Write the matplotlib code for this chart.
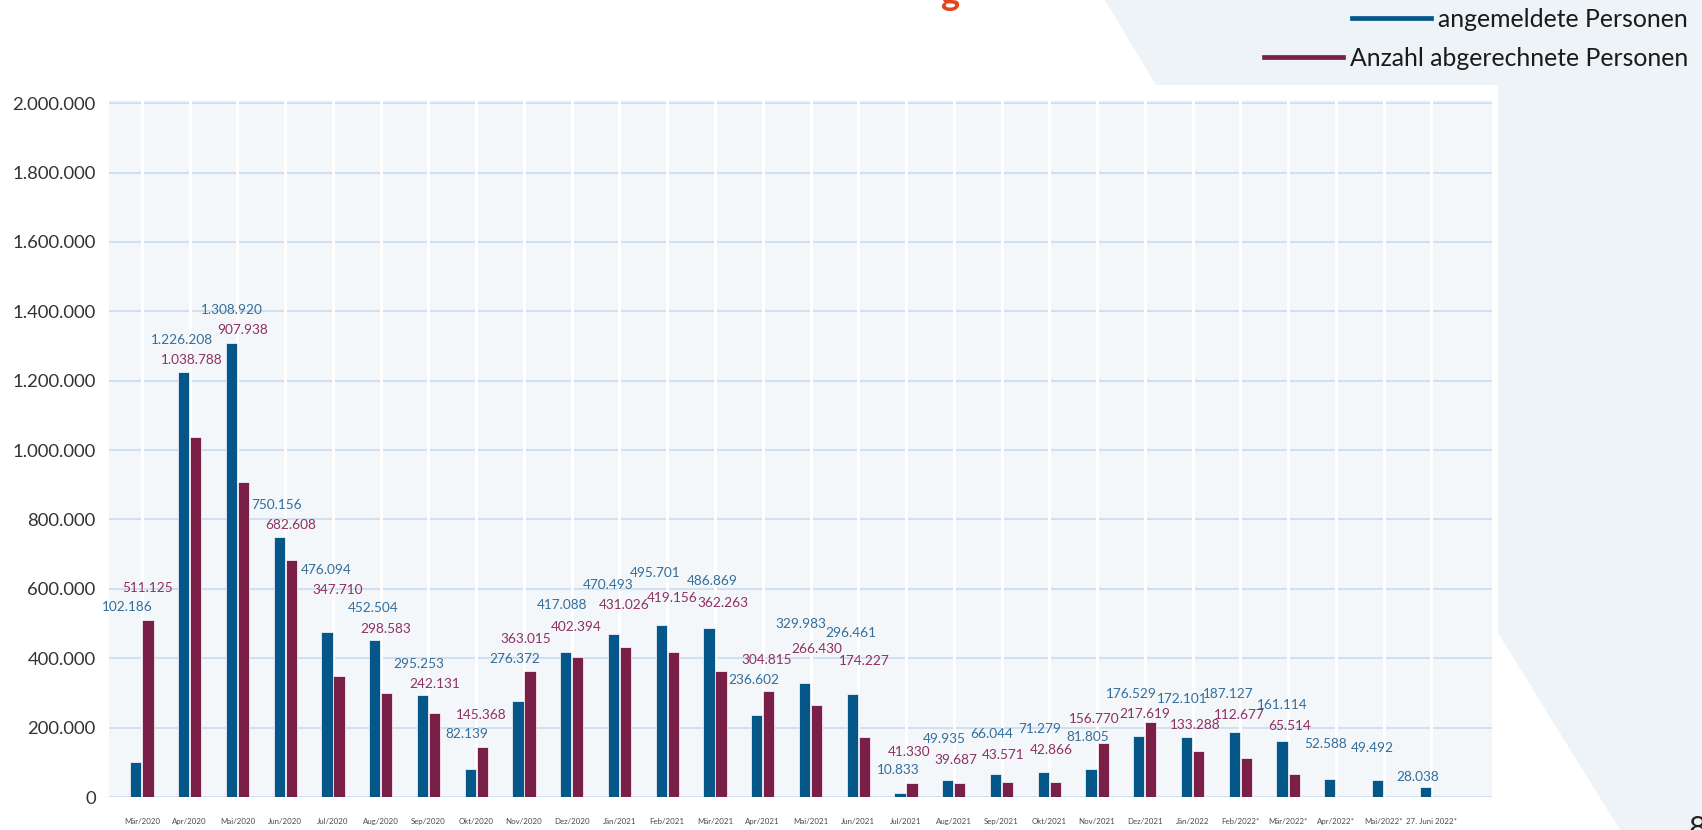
import numpy as np
import matplotlib
matplotlib.use("Agg")
import matplotlib.pyplot as plt
from matplotlib.patches import Polygon
from matplotlib.lines import Line2D

plt.rcParams['font.family'] = ['Lato', 'DejaVu Sans']

# ---------------- data ----------------
categories = ["Mär/2020", "Apr/2020", "Mai/2020", "Jun/2020", "Jul/2020", "Aug/2020",
              "Sep/2020", "Okt/2020", "Nov/2020", "Dez/2020", "Jän/2021", "Feb/2021",
              "Mär/2021", "Apr/2021", "Mai/2021", "Jun/2021", "Jul/2021", "Aug/2021",
              "Sep/2021", "Okt/2021", "Nov/2021", "Dez/2021", "Jän/2022", "Feb/2022*",
              "Mär/2022*", "Apr/2022*", "Mai/2022*", "27. Juni 2022*"]
angemeldet = [102186, 1226208, 1308920, 750156, 476094, 452504, 295253, 82139,
              276372, 417088, 470493, 495701, 486869, 236602, 329983, 296461,
              10833, 49935, 66044, 71279, 81805, 176529, 172101, 187127,
              161114, 52588, 49492, 28038]
abgerechnet = [511125, 1038788, 907938, 682608, 347710, 298583, 242131, 145368,
               363015, 402394, 431026, 419156, 362263, 304815, 266430, 174227,
               41330, 39687, 43571, 42866, 156770, 217619, 133288, 112677,
               65514]
series_names = ["angemeldete Personen", "Anzahl abgerechnete Personen"]
yticks = [0, 200000, 400000, 600000, 800000, 1000000, 1200000, 1400000,
          1600000, 1800000, 2000000]

# label placement (pixel offsets from bar top / category centre) - layout only
blue_dx = [-14.2, -7.8, -5.5, -8.6, -7, -7.8, -9.4, -9.3, -9.3, -10.1, -11.3, -12.1,
           -3.1, -8.9, -9.8, -7.9, -8.2, -9.3, -10, -9.5, -9.2, -13.7, -10.8, -12.2,
           -5.5, -10.5, -11, -13.9]
blue_dy = [157.0, 33.6, 34.9, 33.8, 63.8, 34, 32.9, 36.5, 43.8, 49, 50.5, 54.3,
           49.1, 37.2, 60.8, 63.5, 24.9, 43, 42.4, 45.6, 33.6, 44.1, 40, 40.4,
           37.8, 37.1, 33.8, 12.3]
red_dx = [5.5, 2.2, 5.5, 5.7, 4.5, 4.9, 6.4, 5.4, 1.7, 4, 4.7, 5.3, 8.2, 3.8, 6.1,
          5.6, 3.6, 2.5, 2, 2.2, -3, -0.5, 2.2, -0.8, 1.2]
red_dy = [34.0, 78.6, 153.7, 37.2, 88.4, 66.7, 31.3, 33.3, 33.8, 32.4, 44.2, 55.6,
          70.3, 33, 57.9, 77.3, 32.7, 24.9, 28.6, 33.8, 25.9, 9.8, 27.5, 45.2, 50.3]

# ---------------- style ----------------
BLUE = "#05578a"
RED = "#7a1f48"
BLUE_TXT = "#336d9b"
RED_TXT = "#8e3060"
BG = "#f4f7f9"
PANEL = "#edf3f6"
GRID = "#c9dcef"
W, H = 1702, 830
PX = 0.72  # points per pixel at dpi 100

fig = plt.figure(figsize=(W / 100, H / 100), dpi=100)
fig.patch.set_facecolor("white")

# decorative panel on the right
pts = [(1105, 0), (1702, 0), (1702, 830), (1620, 830), (1498, 633), (1498, 85), (1156, 85)]
fig.patches.append(Polygon([(x / W, 1 - y / H) for x, y in pts], closed=True,
                           transform=fig.transFigure, facecolor=PANEL,
                           edgecolor="none", zorder=0))

ax = fig.add_axes([108.5 / W, 1 - 797 / H, (1492 - 108.5) / W, (797 - 99.7) / H])
ax.set_facecolor(BG)

x = np.arange(len(categories))
bw = 0.235
off = 0.127
ax.bar(x - off, angemeldet, width=bw, color=BLUE, edgecolor="white", linewidth=0.5, zorder=2)
xr = np.arange(len(abgerechnet))
ax.bar(xr + off, abgerechnet, width=bw, color=RED, edgecolor="white", linewidth=0.5, zorder=2)

def fmt(v):
    return f"{v:,}".replace(",", ".")

for i, v in enumerate(angemeldet):
    ax.annotate(fmt(v), xy=(i, v), xytext=(blue_dx[i] * PX, blue_dy[i] * PX - 1.5),
                textcoords="offset points", ha="center", va="center",
                fontsize=9.8, color=BLUE_TXT, zorder=3)
for i, v in enumerate(abgerechnet):
    ax.annotate(fmt(v), xy=(i, v), xytext=(red_dx[i] * PX, red_dy[i] * PX - 1.5),
                textcoords="offset points", ha="center", va="center",
                fontsize=9.8, color=RED_TXT, zorder=3)

ax.set_xlim(-0.70, 28.27)
ax.set_ylim(0, 2010000)
ax.set_yticks(yticks)
ax.set_yticklabels([fmt(v) for v in yticks], fontsize=13.3, color="#333333")
ax.set_xticks(x)
ax.set_xticklabels(categories, fontsize=5.7, color="#4a4a4a")
ax.tick_params(axis="y", length=0, pad=9.2)
ax.tick_params(axis="x", length=0, pad=15.4)
for s in ax.spines.values():
    s.set_visible(False)

ax.set_axisbelow(True)
ax.yaxis.grid(True, color=GRID, linewidth=1.2)
ax.xaxis.grid(True, color="white", linewidth=2.2)
ax.xaxis.set_zorder(0.7)
ax.yaxis.set_zorder(0.5)

# legend: one right-aligned row per series
leg_colors = [BLUE, RED]
leg_rows_y = [19.5, 58.6]  # row centres in pixels from top
for name, col, yc in zip(series_names, leg_colors, leg_rows_y):
    lg = fig.legend([Line2D([0], [0], color=col, lw=3.4)], [name], loc="center right",
                    bbox_to_anchor=(1688 / W, 1 - yc / H), frameon=False,
                    fontsize=17.8, handlelength=3.2, handletextpad=0.28,
                    borderaxespad=0, borderpad=0)
    for t in lg.get_texts():
        t.set_color("#1a1a1a")

# cut-off title fragment and page number
fig.text(950 / W, 1 - 11 / H, "g", fontsize=26, fontweight="bold", color="#e8431d",
         ha="center", va="bottom")
fig.text(1688 / W, 1 - 815 / H, "8", fontsize=22, color="#222222", ha="left", va="top")

fig.savefig("out.png", dpi=100)
